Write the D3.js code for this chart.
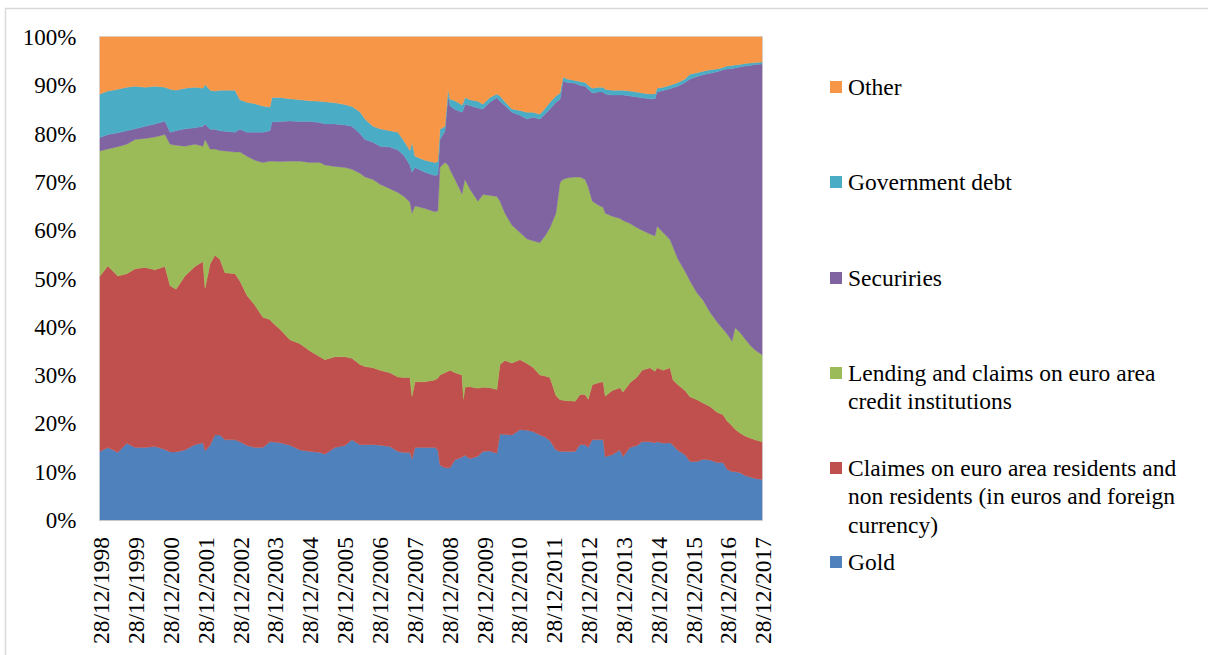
<!DOCTYPE html>
<html>
<head>
<meta charset="utf-8">
<script src="https://cdn.jsdelivr.net/npm/d3@7"></script>
<style>
  html, body { margin: 0; padding: 0; background: #ffffff; }
  svg { display: block; }
  text { font-family: "Liberation Serif", "Times New Roman", serif; fill: #000; }
</style>
</head>
<body>
<svg id="chart" width="1208" height="655"></svg>
<script>
// ---- Data (percent shares) ----
const dates = [
  "1998-12-28","1999-03-20","1999-07-03","1999-10-05","2000-01-01","2000-04-12","2000-07-26","2000-11-08",
  "2001-01-01","2001-03-04","2001-06-05","2001-09-18","2001-12-12","2002-01-02","2002-02-24","2002-04-15",
  "2002-06-07","2002-07-30","2002-11-12","2003-01-03","2003-03-18","2003-06-08","2003-08-31","2003-11-14",
  "2003-12-04","2004-02-27","2004-06-10","2004-09-24","2005-01-07","2005-04-20","2005-06-12","2005-09-25",
  "2006-01-08","2006-03-22","2006-06-14","2006-08-06","2006-10-29","2007-01-10","2007-04-24","2007-07-17",
  "2007-09-18","2007-11-20","2007-12-12","2008-01-12","2008-04-26","2008-08-08","2008-09-08","2008-09-30",
  "2008-11-21","2008-12-24","2009-01-14","2009-03-07","2009-05-19","2009-06-03","2009-06-19","2009-08-10",
  "2009-11-02","2009-12-25","2010-03-08","2010-05-20","2010-06-21","2010-08-12","2010-10-25","2011-01-17",
  "2011-03-31","2011-06-02","2011-08-14","2011-10-06","2011-11-27","2012-01-29","2012-03-12","2012-04-12",
  "2012-05-25","2012-08-17","2012-10-08","2012-11-30","2013-01-01","2013-02-13","2013-04-16","2013-06-07",
  "2013-06-28","2013-09-09","2013-12-01","2014-01-01","2014-03-15","2014-05-28","2014-07-19","2014-10-11",
  "2014-12-03","2014-12-24","2015-02-25","2015-05-09","2015-06-09","2015-07-31","2015-10-13","2015-12-04",
  "2016-02-16","2016-04-19","2016-07-01","2016-09-13","2016-11-15","2016-12-27","2017-02-18","2017-03-21",
  "2017-05-12","2017-07-03","2017-08-25","2017-10-16","2017-12-28"
];

const gold = [
  14.2,15.0,14.0,15.9,15.0,15.0,15.2,14.6, 14.1,14.1,14.5,15.6,16.0,14.3,15.5,17.6,
  17.6,16.6,16.6,16.2,15.4,15.0,15.0,16.2, 16.2,16.0,15.5,14.5,14.2,14.0,13.6,15.0,
  15.4,16.6,15.6,15.6,15.6,15.5,15.2,14.2, 14.0,14.0,12.6,15.0,15.0,15.0,14.5,11.4,
  10.8,10.8,10.8,12.5,13.0,13.2,13.4,12.7, 13.2,14.2,14.3,13.8,17.8,17.7,17.6,18.7,
  18.6,18.3,17.6,17.2,16.4,14.5,14.2,14.2, 14.2,14.2,15.6,15.6,15.0,16.6,16.6,16.6,
  13.1,13.5,14.5,13.1,15.0,15.4,16.2,16.2, 16.0,16.2,15.9,16.0,15.5,14.4,13.5,12.1,
  12.1,12.6,12.4,11.9,11.9,10.5,10.0,10.0, 9.8,9.2,8.9,8.6,8.4
];

const claims = [
  36.3,37.6,36.5,35.1,37.0,37.3,36.6,37.9, 34.4,33.7,36.0,36.9,37.5,33.7,37.5,37.2,
  36.4,34.6,34.4,33.3,31.1,29.5,27.0,25.3, 24.8,23.5,21.8,22.0,20.8,19.8,19.6,18.8,
  18.4,16.9,16.6,16.2,15.9,15.5,15.3,15.4, 15.5,15.5,13.0,13.6,13.6,14.0,14.9,18.6,
  19.7,20.0,20.2,18.0,17.0,11.8,14.1,14.9, 14.1,13.3,13.1,13.2,14.4,15.3,14.9,14.5,
  13.8,13.3,12.4,12.6,13.1,11.3,10.7,10.6, 10.5,10.4,10.4,10.4,10.0,11.4,11.8,12.0,
  12.5,13.3,12.9,13.4,13.4,14.2,14.8,15.3, 14.8,15.3,15.1,15.5,13.5,13.6,13.3,13.4,
  12.8,11.6,11.1,10.4,9.9,10.0,9.5,8.8, 8.2,8.2,8.1,8.0,7.8
];

const lending = [
  25.9,24.2,26.8,26.8,26.8,26.7,27.5,27.3, 29.3,29.8,26.9,25.3,23.9,30.8,23.8,22.0,
  22.5,25.2,25.2,26.7,28.8,30.0,32.0,32.8, 33.3,34.7,37.0,37.8,39.0,40.2,40.3,39.4,
  39.2,39.1,39.6,39.2,39.0,38.5,38.1,38.2, 37.5,36.3,37.9,36.4,35.9,34.8,34.6,43.0,
  43.5,42.7,41.5,40.0,37.5,44.0,43.0,40.9, 38.7,39.9,39.8,40.0,33.8,30.5,28.5,26.3,
  25.8,26.2,27.4,29.0,31.0,37.7,45.0,45.7, 46.1,46.4,45.0,44.5,44.0,38.0,36.8,36.1,
  37.9,36.1,35.0,35.5,33.0,30.9,29.0,27.7, 28.0,29.3,28.5,26.5,27.5,26.0,24.7,24.0,
  22.1,21.3,19.5,18.7,17.7,18.0,17.5,21.0, 20.8,20.1,19.2,18.6,18.0
];

const securities = [
  2.8,3.0,2.9,2.8,2.2,2.5,2.7,2.8, 2.5,3.0,3.6,3.4,4.1,3.2,4.1,4.1,
  4.1,4.1,4.1,4.7,5.0,5.8,6.3,6.3, 8.1,8.3,8.3,8.2,8.5,8.3,8.5,8.8,
  8.8,8.9,8.2,7.8,7.7,7.9,8.6,8.8, 8.5,7.7,8.5,8.0,7.5,7.5,7.5,5.8,
  6.5,14.3,13.2,14.5,16.9,16.0,15.6,17.3, 19.3,17.7,19.3,20.5,20.7,22.3,23.4,24.3,
  24.8,25.6,25.6,25.2,24.6,23.0,17.2,20.4, 19.8,19.4,19.0,19.3,20.2,22.4,23.4,23.9,
  24.7,25.1,25.6,26.0,26.4,27.1,27.4,28.0, 28.4,27.8,29.4,31.3,33.0,35.8,39.1,41.8,
  44.8,46.7,49.5,51.8,53.7,54.9,56.5,53.8, 55.0,56.5,57.9,59.1,60.2
];

const governmentDebt = [
  9.0,9.0,9.0,9.0,8.8,8.1,7.8,7.0, 8.9,8.4,8.4,8.4,7.9,8.2,8.1,7.9,
  8.4,8.5,8.7,6.1,6.2,5.9,5.4,4.9, 5.1,5.0,4.6,4.5,4.3,4.4,4.6,4.4,
  4.2,4.1,4.5,4.2,3.3,3.6,3.4,3.7, 3.0,3.0,6.2,2.3,2.5,2.7,2.7,2.1,
  1.0,1.4,1.4,1.8,1.5,1.5,1.4,1.2, 1.4,1.0,1.0,0.7,1.1,0.8,0.7,1.0,
  1.4,1.0,1.0,1.2,1.4,1.3,1.3,0.8, 0.7,0.6,0.8,0.8,0.8,1.0,1.0,1.0,
  1.0,1.0,1.0,1.0,1.0,1.0,1.0,1.0, 1.0,0.8,0.7,0.7,0.7,0.8,0.7,1.0,
  0.8,0.7,0.7,0.6,0.5,0.6,0.6,0.6, 0.5,0.5,0.5,0.4,0.4
];

const other = [
  11.8,11.2,10.8,10.4,10.2,10.4,10.2,10.4, 10.8,11.0,10.6,10.4,10.6,9.8,11.0,11.2,
  11.0,11.0,11.0,13.0,13.5,13.8,14.3,14.5, 12.5,12.5,12.8,13.0,13.2,13.3,13.4,13.6,
  14.0,14.4,15.5,17.0,18.5,19.0,19.4,19.7, 21.5,23.5,21.8,24.7,25.5,26.0,25.8,19.1,
  18.5,10.8,12.9,13.2,14.1,13.5,12.5,13.0, 13.3,13.9,12.5,11.8,12.2,13.4,14.9,15.2,
  15.6,15.6,16.0,14.8,13.5,12.2,11.6,8.3, 8.7,9.0,9.2,9.4,10.0,10.6,10.4,10.4,
  10.8,11.0,11.0,11.0,11.2,11.4,11.6,11.8, 11.8,10.6,10.4,10.0,9.8,9.4,8.7,7.7,
  7.4,7.1,6.8,6.6,6.3,6.0,5.9,5.8, 5.7,5.5,5.4,5.3,5.2
];

const seriesKeys = ["gold","claims","lending","securities","governmentDebt","other"];
const seriesLabels = {
  gold: ["Gold"],
  claims: ["Claimes on euro area residents and", "non residents (in euros and foreign", "currency)"],
  lending: ["Lending and claims on euro area", "credit institutions"],
  securities: ["Securiries"],
  governmentDebt: ["Government debt"],
  other: ["Other"]
};
const seriesColors = {
  gold: "#4F81BD", claims: "#C0504D", lending: "#9BBB59",
  securities: "#8064A2", governmentDebt: "#4BACC6", other: "#F79646"
};
const yTickValues = [0, 0.1, 0.2, 0.3, 0.4, 0.5, 0.6, 0.7, 0.8, 0.9, 1.0];
const xTickYears = d3.range(1998, 2018);

// ---- Build ----
const parse = d3.timeParse("%Y-%m-%d");
const rows = dates.map((d, i) => ({
  date: parse(d),
  gold: gold[i], claims: claims[i], lending: lending[i],
  securities: securities[i], governmentDebt: governmentDebt[i], other: other[i]
}));

const svg = d3.select("#chart");
const plot = { left: 100, right: 762, top: 37, bottom: 520 };

// chart frame
svg.append("rect")
  .attr("x", 5.5).attr("y", 8.5).attr("width", 1300).attr("height", 700)
  .attr("fill", "none").attr("stroke", "#D9D9D9").attr("stroke-width", 1.5);

const x = d3.scaleTime()
  .domain([parse("1998-12-28"), parse("2017-12-28")])
  .range([plot.left, plot.right]);
const y = d3.scaleLinear().domain([0, 1]).range([plot.bottom, plot.top]);

// plot-area outline
svg.append("rect")
  .attr("x", plot.left - 0.5).attr("y", plot.top - 0.5)
  .attr("width", plot.right - plot.left + 1).attr("height", plot.bottom - plot.top + 1)
  .attr("fill", "none").attr("stroke", "#D9D9D9").attr("stroke-width", 1);

const stack = d3.stack().keys(seriesKeys).offset(d3.stackOffsetExpand);
const layers = stack(rows);

const area = d3.area()
  .x(d => x(d.data.date))
  .y0(d => y(d[0]))
  .y1(d => y(d[1]));

svg.append("g").selectAll("path")
  .data(layers)
  .join("path")
  .attr("d", area)
  .attr("fill", d => seriesColors[d.key])
  .attr("stroke", d => seriesColors[d.key])
  .attr("stroke-width", 0.4);

// y axis (labels only)
const yAxis = d3.axisLeft(y)
  .tickValues(yTickValues)
  .tickFormat(d3.format(".0%"))
  .tickSize(0).tickPadding(0);
const gy = svg.append("g").attr("transform", `translate(76.5,0)`).call(yAxis);
gy.select(".domain").remove();
gy.selectAll("text")
  .attr("font-family", "'Liberation Serif', 'Times New Roman', serif")
  .attr("font-size", "23px").attr("fill", "#000").attr("dy", "0.33em");

// x axis line
svg.append("line")
  .attr("x1", plot.left - 0.5).attr("x2", plot.right + 0.5)
  .attr("y1", plot.bottom + 0.5).attr("y2", plot.bottom + 0.5)
  .attr("stroke", "#C8C8C8").attr("stroke-width", 1);

// x axis labels
const xTicks = xTickYears.map(yr => new Date(yr, 11, 28));
const xAxis = d3.axisBottom(x)
  .tickValues(xTicks)
  .tickFormat(d3.timeFormat("%d/%m/%Y"))
  .tickSize(0).tickPadding(0);
const gx = svg.append("g").attr("transform", `translate(0,${plot.bottom})`).call(xAxis);
gx.select(".domain").remove();
gx.selectAll("text")
  .attr("font-family", "'Liberation Serif', 'Times New Roman', serif")
  .attr("font-size", "23.5px").attr("fill", "#000")
  .attr("text-anchor", "end")
  .attr("transform", "translate(1,17) rotate(-90)")
  .attr("x", 0).attr("y", 0).attr("dy", "0.33em");

// legend
const legendOrder = ["other","governmentDebt","securities","lending","claims","gold"];
const legendY = { other: 87, governmentDebt: 182, securities: 278, lending: 373, claims: 468, gold: 562 };
const lg = svg.append("g");
legendOrder.forEach(k => {
  const cy = legendY[k];
  lg.append("rect").attr("x", 830).attr("y", cy - 6).attr("width", 12).attr("height", 12)
    .attr("fill", seriesColors[k]);
  const t = lg.append("text")
    .attr("x", 848).attr("y", cy)
    .attr("font-family", "'Liberation Serif', 'Times New Roman', serif")
    .attr("font-size", "23.5px").attr("fill", "#000");
  seriesLabels[k].forEach((line, i) => {
    t.append("tspan").attr("x", 848).attr("y", cy + i * 28.6).attr("dy", "0.33em").text(line);
  });
});
</script>
</body>
</html>
